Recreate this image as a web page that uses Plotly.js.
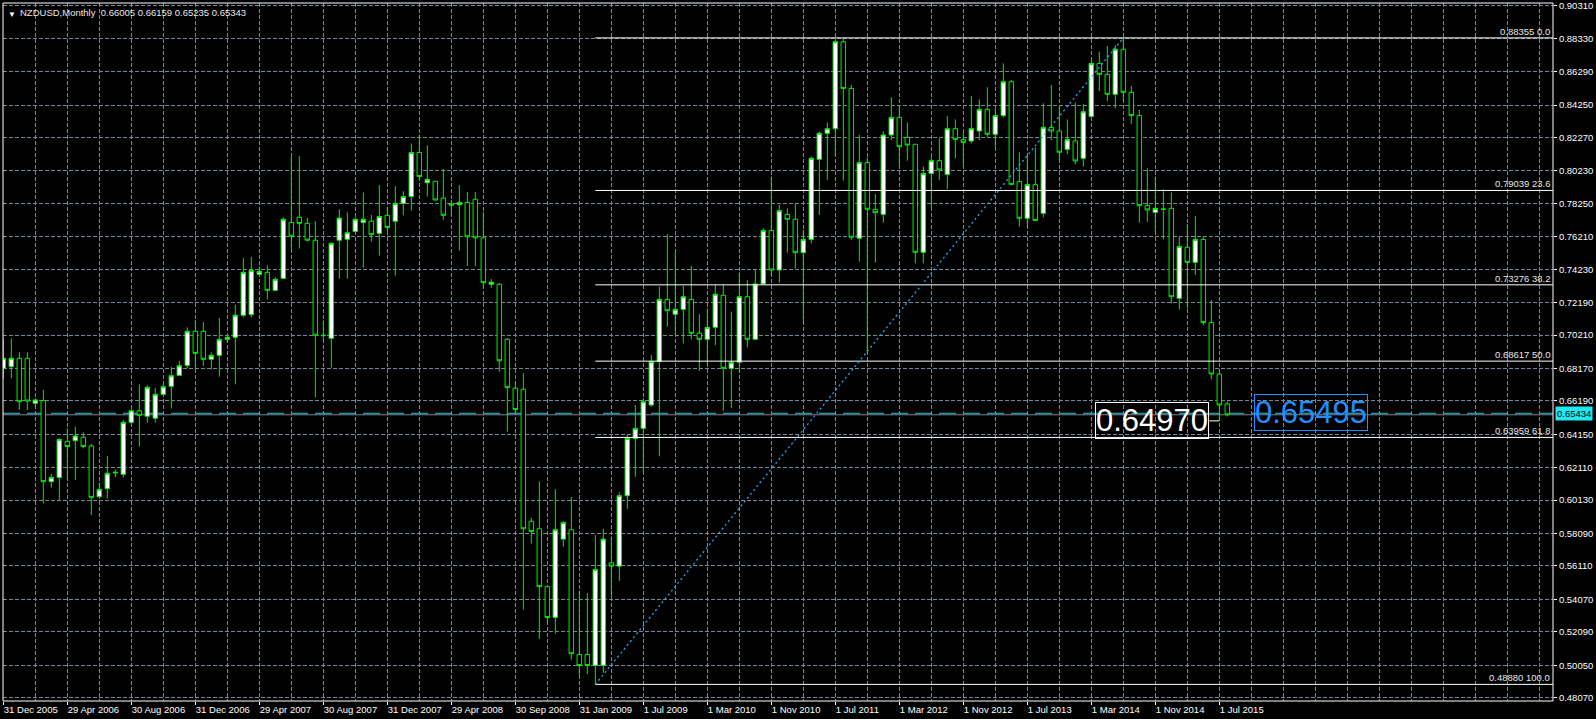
<!DOCTYPE html>
<html><head><meta charset="utf-8">
<script src="https://cdn.plot.ly/plotly-3.0.1.min.js"></script>
<style>html,body{margin:0;padding:0;background:#000;}#chart{width:1596px;height:719px;}</style>
</head><body><div id="chart"></div>
<script>
// ---- data (NZDUSD monthly bars, one per slot) ----
const opens = [
0.6818,0.6828,0.6879,0.6879,0.6604,0.6620,0.6126,0.6152,0.6372,0.6376,
0.6397,0.6344,0.6034,0.6083,0.6179,0.6171,0.6488,0.6559,0.6525,0.6513,
0.6659,0.6708,0.6775,0.6836,0.7044,0.7044,0.6873,0.6897,0.6995,0.7007,
0.7142,0.7146,0.7392,0.7404,0.7294,0.7367,0.7709,0.7740,0.7703,0.7600,
0.7020,0.7001,0.7600,0.7606,0.7653,0.7709,0.7716,0.7642,0.7752,0.7716,
0.7825,0.7867,0.8136,0.7951,0.7960,0.7857,0.7821,0.7817,0.7831,0.7850,
0.7615,0.7331,0.7331,0.6995,0.6696,0.6690,0.5884,0.5838,0.5485,0.5296,
0.5775,0.5832,0.5071,0.5071,0.5003,0.5003,0.5630,0.5610,0.6040,0.6390,
0.6451,0.6594,0.6859,0.7239,0.7148,0.7178,0.7239,0.7032,0.6995,0.7068,
0.7264,0.6818,0.6855,0.7255,0.6995,0.7333,0.7659,0.7418,0.7758,0.7728,
0.7524,0.7605,0.8094,0.8253,0.8281,0.8812,0.8527,0.7612,0.8074,0.7789,
0.7758,0.8243,0.8350,0.8228,0.8186,0.7526,0.8008,0.8086,0.8002,0.8281,
0.8216,0.8206,0.8267,0.8399,0.8247,0.8361,0.8568,0.7958,0.7734,0.7941,
0.7764,0.8289,0.8267,0.8155,0.8206,0.8100,0.8355,0.8680,0.8613,0.8491,
0.8766,0.8503,0.8361,0.7811,0.7770,0.7791,0.7795,0.7245,0.7557,0.7465,
0.7605,0.7097,0.6783,0.66005];
const highs = [
0.7001,0.7001,0.6916,0.6916,0.6635,0.6686,0.6173,0.6390,0.6452,0.6460,
0.6427,0.6356,0.6120,0.6283,0.6201,0.6502,0.6568,0.6720,0.6714,0.6698,
0.6726,0.6826,0.6863,0.7068,0.7113,0.7101,0.6916,0.7125,0.7021,0.7205,
0.7492,0.7498,0.7439,0.7447,0.7374,0.7740,0.8108,0.8114,0.7737,0.7716,
0.7110,0.7587,0.7789,0.7770,0.7739,0.7892,0.7754,0.7937,0.7804,0.7930,
0.7899,0.8190,0.8245,0.8180,0.7962,0.8035,0.7846,0.7937,0.7894,0.7894,
0.7773,0.7363,0.7339,0.7003,0.6742,0.6789,0.5905,0.6128,0.5485,0.6080,
0.5884,0.6032,0.5460,0.5445,0.5800,0.5838,0.5790,0.6060,0.6415,0.6594,
0.6635,0.6899,0.7316,0.7638,0.7524,0.7321,0.7443,0.7150,0.7184,0.7327,
0.7327,0.7164,0.7404,0.7357,0.7418,0.7673,0.7988,0.7815,0.7795,0.7825,
0.7663,0.8110,0.8263,0.8318,0.8823,0.88355,0.8548,0.8243,0.8106,0.7882,
0.8264,0.8473,0.8420,0.8318,0.8186,0.8049,0.8114,0.8222,0.8359,0.8338,
0.8263,0.8481,0.8460,0.8534,0.8401,0.8680,0.8578,0.8137,0.8114,0.8167,
0.8436,0.8548,0.8426,0.8338,0.8440,0.8432,0.8700,0.8751,0.8786,0.8792,
0.8833,0.8542,0.8395,0.8039,0.7988,0.7911,0.7892,0.7622,0.7699,0.7748,
0.7622,0.7235,0.6812,0.66159];
const lows = [
0.6757,0.6757,0.6563,0.6563,0.6580,0.5994,0.6089,0.6014,0.6136,0.6136,
0.6329,0.5922,0.6030,0.6022,0.6152,0.6152,0.6478,0.6340,0.6486,0.6486,
0.6653,0.6572,0.6775,0.6818,0.6808,0.6832,0.6812,0.6767,0.6975,0.6720,
0.7129,0.7129,0.7392,0.7239,0.7288,0.7365,0.7540,0.7549,0.7594,0.6641,
0.6984,0.6822,0.7365,0.7365,0.7646,0.7432,0.7592,0.7506,0.7655,0.7384,
0.7752,0.7781,0.7968,0.7867,0.7840,0.7724,0.7747,0.7537,0.7442,0.7442,
0.7304,0.7310,0.6797,0.6431,0.6549,0.5344,0.5748,0.5165,0.5260,0.5197,
0.5729,0.5039,0.4938,0.4951,0.4888,0.4960,0.5420,0.5520,0.5960,0.6156,
0.6187,0.6584,0.6281,0.7072,0.7021,0.6970,0.6995,0.6804,0.6838,0.6960,
0.6559,0.6574,0.6791,0.6946,0.6991,0.7333,0.7388,0.7341,0.7524,0.7428,
0.7097,0.7581,0.7754,0.7968,0.8110,0.7964,0.7601,0.7469,0.6909,0.7463,
0.7707,0.8212,0.8049,0.8086,0.7459,0.7459,0.7795,0.7968,0.7913,0.8100,
0.8049,0.8192,0.8212,0.8232,0.8161,0.8350,0.7937,0.7683,0.7683,0.7720,
0.7740,0.8212,0.8086,0.8125,0.8063,0.8049,0.8350,0.8511,0.8450,0.8405,
0.8450,0.8310,0.7707,0.7713,0.7646,0.7605,0.7215,0.7178,0.7184,0.7388,
0.7082,0.6751,0.6497,0.65235];
const closes = [
0.6879,0.6879,0.6614,0.6618,0.6625,0.6126,0.6152,0.6384,0.6340,0.6405,
0.6340,0.6030,0.6079,0.6177,0.6183,0.6488,0.6559,0.6531,0.6702,0.6659,
0.6706,0.6773,0.6834,0.7044,0.6909,0.6873,0.6897,0.6995,0.7007,0.7142,
0.7404,0.7416,0.7410,0.7294,0.7361,0.7728,0.7624,0.7703,0.7600,0.7020,
0.7018,0.7581,0.7735,0.7646,0.7728,0.7728,0.7634,0.7745,0.7678,0.7825,
0.7867,0.8136,0.7989,0.7972,0.7846,0.7752,0.7815,0.7831,0.7621,0.7615,
0.7341,0.7344,0.6864,0.6700,0.6566,0.5838,0.5821,0.5485,0.5296,0.5832,
0.5876,0.5075,0.5003,0.5003,0.5590,0.5775,0.5610,0.6040,0.6390,0.6451,
0.6614,0.6859,0.7239,0.7170,0.7178,0.7255,0.7032,0.6995,0.7068,0.7270,
0.6818,0.6855,0.7255,0.6995,0.7333,0.7659,0.7418,0.7781,0.7728,0.7524,
0.7605,0.8100,0.8253,0.8281,0.8812,0.8527,0.7618,0.8074,0.7789,0.7768,
0.8243,0.8350,0.8171,0.8181,0.7526,0.8008,0.8086,0.8029,0.8281,0.8216,
0.8198,0.8281,0.8399,0.8247,0.8361,0.8568,0.7941,0.7734,0.7941,0.7720,
0.8289,0.8267,0.8137,0.8216,0.8084,0.8385,0.8680,0.8613,0.8491,0.8766,
0.8503,0.8361,0.7811,0.7785,0.7795,0.7789,0.7255,0.7561,0.7465,0.7605,
0.7097,0.6783,0.6594,0.65343];
const barIndex = opens.map((_, i) => i);

const xLabelIdx = [0,8,16,24,32,40,48,56,64,72,80,88,96,104,112,120,128,136,144,152];
const xLabelText = ['31 Dec 2005','29 Apr 2006','30 Aug 2006','31 Dec 2006','29 Apr 2007','30 Aug 2007',
  '31 Dec 2007','29 Apr 2008','30 Sep 2008','31 Jan 2009','1 Jul 2009','1 Mar 2010','1 Nov 2010',
  '1 Jul 2011','1 Mar 2012','1 Nov 2012','1 Jul 2013','1 Mar 2014','1 Nov 2014','1 Jul 2015'];
const yTickVals = [0.90310,0.88330,0.86290,0.84250,0.82270,0.80230,0.78250,0.76210,0.74230,0.72190,0.70210,
  0.68170,0.66190,0.64150,0.62110,0.60130,0.58090,0.56110,0.54070,0.52090,0.50050,0.48070];

const fibPrices = [0.88355, 0.79039, 0.73276, 0.68617, 0.63959, 0.48880];
const fibLevels = [0.0, 23.6, 38.2, 50.0, 61.8, 100.0];
const fibAnchorIdx = [74, 140];          // bar of the low (100) and of the high (0)
const fibAnchorPrice = [0.48880, 0.88355];

const headerOHLC = [0.66005, 0.66159, 0.65235, 0.65343];
const hLinePrice = 0.65434;
const bidPrice = 0.65343;
const lowLabelPrice = 0.64970;
const blueLabelPrice = 0.65495;

// ---- drawing ----
const GREEN = '#00ee00';
const GRID = '#778899';
const FONT = 'Liberation Sans, Arial, sans-serif';
const X_MAX = 193.71;

const traces = [];
// fib lines (rays from the low bar to the right edge)
const fx = [], fy = [];
fibPrices.forEach(p => { fx.push(fibAnchorIdx[0], X_MAX + 1, null); fy.push(p, p, null); });
traces.push({type:'scatter', mode:'lines', x:fx, y:fy, line:{color:'#ffffff', width:1}, hoverinfo:'skip', cliponaxis:true});

traces.push({
  type:'candlestick', x:barIndex, open:opens, high:highs, low:lows, close:closes,
  increasing:{line:{color:GREEN, width:1}, fillcolor:'#ffffff'},
  decreasing:{line:{color:GREEN, width:1}, fillcolor:'#000000'},
  whiskerwidth:0, hoverinfo:'skip'
});

// fib trend line (dotted)
traces.push({type:'scatter', mode:'lines', xaxis:'x2', x:fibAnchorIdx, y:fibAnchorPrice,
  line:{color:'#22aaff', width:1.3, dash:'2px,3px'}, hoverinfo:'skip'});

const annotations = [];
annotations.push({xref:'paper', yref:'paper', x:0, y:1, xanchor:'left', yanchor:'top', xshift:3, yshift:-5,
  text:'▼', showarrow:false, font:{family:FONT, size:8, color:'#ffffff'}});
annotations.push({xref:'paper', yref:'paper', x:0, y:1, xanchor:'left', yanchor:'top', xshift:15, yshift:-2,
  text:'NZDUSD,Monthly\u00a0\u00a0' + headerOHLC.map(v => v.toFixed(5)).join(' '),
  showarrow:false, font:{family:FONT, size:9.5, color:'#e8e8e8'}});
fibPrices.forEach((p, i) => {
  annotations.push({xref:'paper', yref:'y', x:1, y:p, xanchor:'right', yanchor:'bottom', xshift:-1, yshift:-1,
    text:p.toFixed(5) + ' ' + fibLevels[i].toFixed(1), showarrow:false,
    font:{family:FONT, size:9.5, color:'#e8e8e8'}});
});
annotations.push({xref:'paper', yref:'y', x:1, y:hLinePrice, xanchor:'left', yanchor:'middle', xshift:2,
  text:hLinePrice.toFixed(5), showarrow:false, bgcolor:'#1ee8f0', borderpad:1,
  font:{family:FONT, size:9.5, color:'#000000'}});
annotations.push({xref:'x', yref:'y', x:152, y:lowLabelPrice, xanchor:'right', yanchor:'middle', xshift:-10,
  text:lowLabelPrice.toFixed(5), showarrow:false, bordercolor:'#ffffff', borderwidth:1, borderpad:0,
  font:{family:FONT, size:31, color:'#ffffff'}});
annotations.push({xref:'x', yref:'y', x:156.3, y:blueLabelPrice, xanchor:'left', yanchor:'middle',
  text:blueLabelPrice.toFixed(5), showarrow:false, bordercolor:'#1e90ff', borderwidth:1, borderpad:0,
  font:{family:FONT, size:31, color:'#1e90ff'}});

const shapes = [
  {type:'line', xref:'paper', yref:'y', x0:0, x1:1, y0:bidPrice, y1:bidPrice, layer:'between',
   line:{color:GRID, width:1}},
  {type:'line', xref:'paper', yref:'y', x0:0, x1:1, y0:hLinePrice, y1:hLinePrice, layer:'between',
   line:{color:'#1ec8d8', width:1, dash:'17px,7px'}},
  {type:'line', xref:'x', yref:'y', x0:150.75, x1:152, y0:lowLabelPrice, y1:lowLabelPrice, layer:'above',
   line:{color:'#ffffff', width:1}},
  {type:'rect', xref:'paper', yref:'paper', x0:0, x1:1, y0:0, y1:1, layer:'above',
   line:{color:'#ffffff', width:1}}
];

const layout = {
  width:1596, height:719, paper_bgcolor:'#000000', plot_bgcolor:'#000000',
  margin:{l:3, r:43, t:3, b:18}, showlegend:false, hovermode:false, dragmode:false,
  boxgap:0.25, boxgroupgap:0.25,
  xaxis:{range:[-0.04, X_MAX], tickmode:'linear', tick0:0, dtick:4, showticklabels:false, ticks:'',
    showgrid:true, gridcolor:GRID, gridwidth:1, griddash:'4px,2px', zeroline:false, showline:false,
    rangeslider:{visible:false}, fixedrange:true},
  xaxis2:{range:[-0.04, X_MAX], overlaying:'x', anchor:'y', side:'bottom', tickmode:'array',
    tickvals:xLabelIdx, ticktext:xLabelText, ticks:'outside', ticklen:3, tickcolor:'#ffffff',
    ticklabelposition:'outside right', showgrid:false, zeroline:false, showline:false,
    tickfont:{family:FONT, size:9.5, color:'#ffffff'}, rangeslider:{visible:false}, fixedrange:true},
  yaxis:{side:'right', range:[0.478656, 0.904854], tickmode:'array', tickvals:yTickVals,
    ticktext:yTickVals.map(v => v.toFixed(5)), ticks:'outside', ticklen:3, tickcolor:'#ffffff',
    tickfont:{family:FONT, size:9.5, color:'#ffffff'}, showgrid:true, gridcolor:GRID, gridwidth:1,
    griddash:'4px,2px', zeroline:false, showline:false, fixedrange:true},
  annotations:annotations, shapes:shapes
};

Plotly.newPlot('chart', traces, layout, {staticPlot:true, displayModeBar:false});
</script>
</body></html>
